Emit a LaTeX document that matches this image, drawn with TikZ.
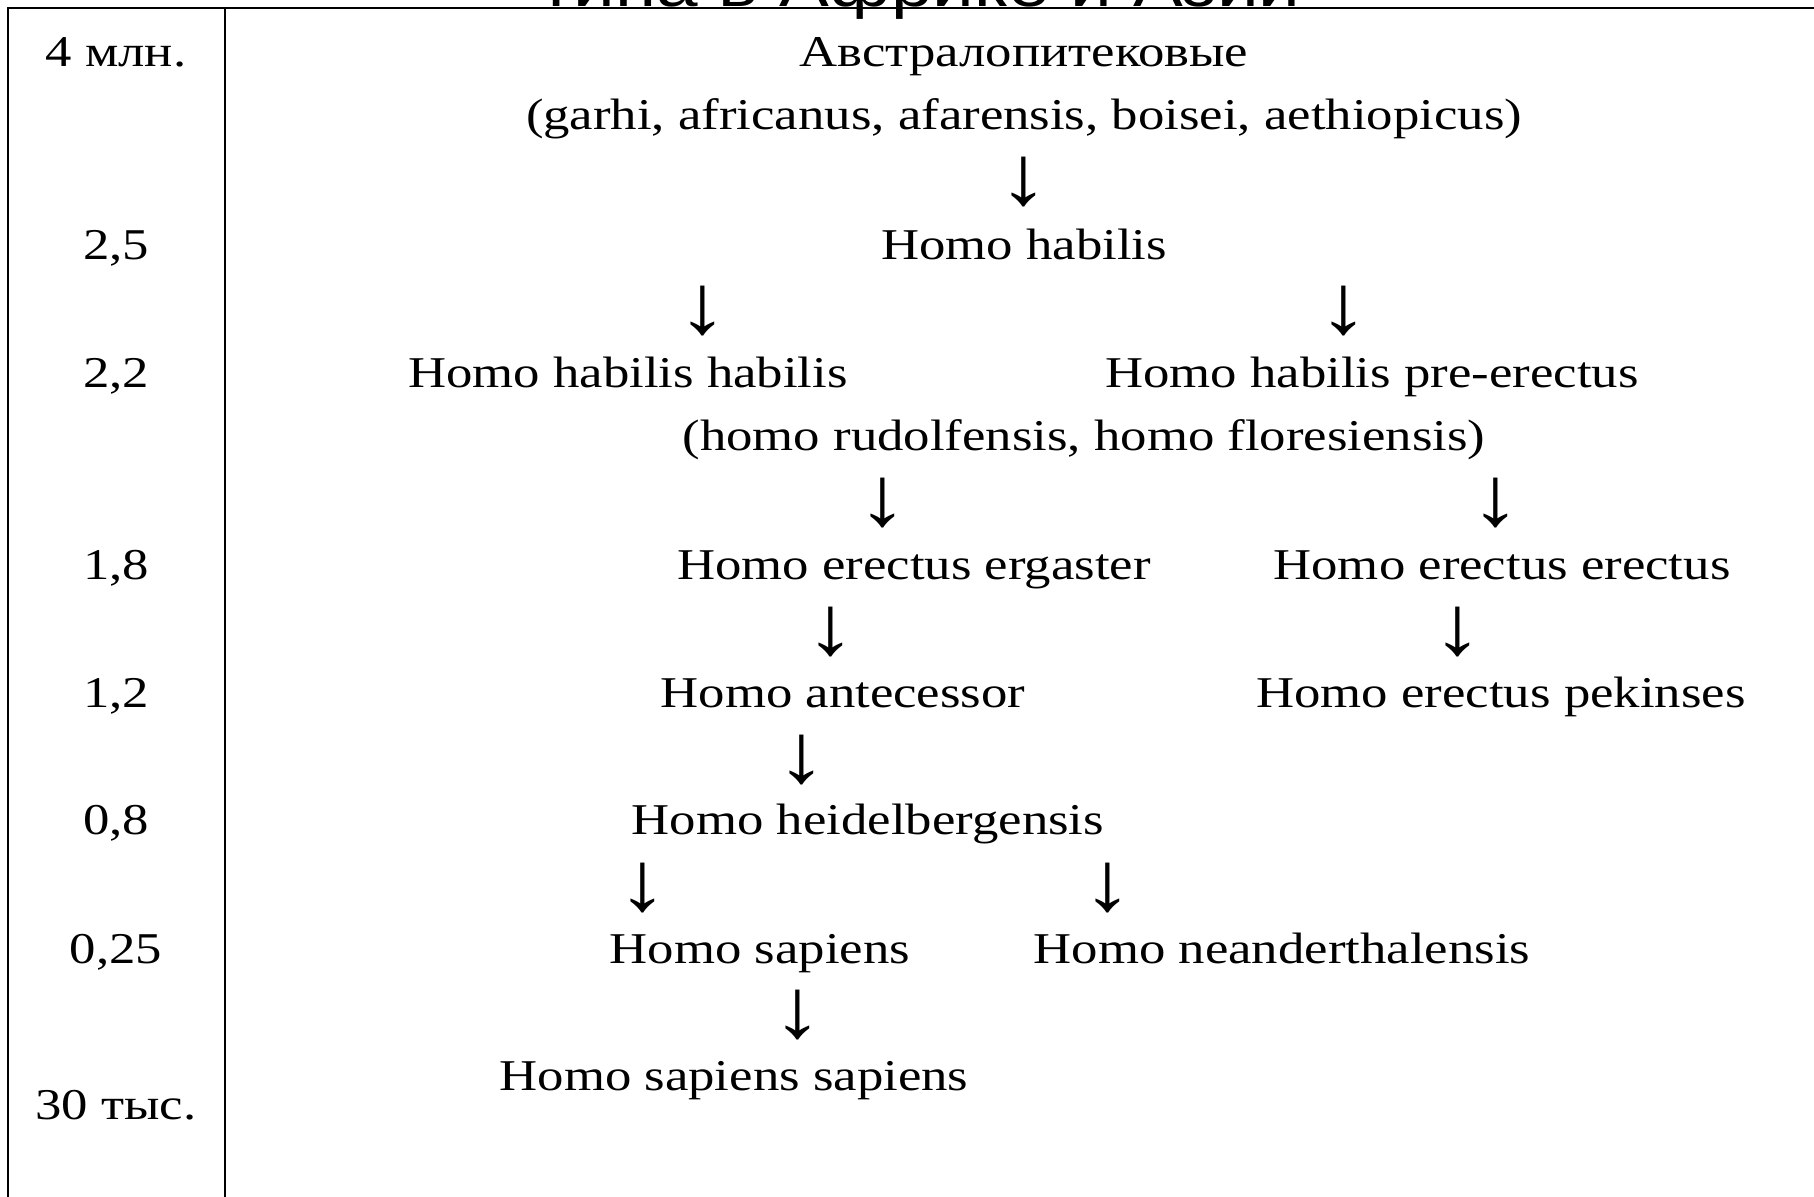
\documentclass[tikz,border=0pt]{standalone}
\usepackage{fontspec}
\setmainfont{Liberation Serif}[FakeStretch=1.2]
\newfontfamily\titlefont{Liberation Sans}[FakeStretch=1.2]

\begin{document}
\begin{tikzpicture}[x=0.01cm, y=-0.01cm,
  lbl/.style={anchor=base, inner sep=0pt, font=\fontsize{12.5}{15}\selectfont},
  arr/.style={inner sep=0pt, font=\fontsize{24}{26}\selectfont}]
\useasboundingbox (0,0) rectangle (1814,1197);
% title, cut off at the top
\node[anchor=base, inner sep=0pt, font=\titlefont\fontsize{17.7}{20}\selectfont] (title) at (920, 7) {тина в Африке и Азии};
% table lines
\draw[line width=0.8pt] (8,1197) -- (8,8) -- (1814,8);
\draw[line width=0.8pt] (225,8) -- (225,1197);
% time column
\node[lbl] (t4) at (116, 67) {4 млн.};
\node[lbl] (t25) at (116, 260) {2,5};
\node[lbl] (t22) at (116, 388) {2,2};
\node[lbl] (t18) at (116, 579) {1,8};
\node[lbl] (t12) at (116, 707) {1,2};
\node[lbl] (t08) at (116, 834) {0,8};
\node[lbl] (t025) at (116, 963) {0,25};
\node[lbl] (t30) at (116, 1119) {30 тыс.};
% species
\node[lbl] (austr) at (1024, 67) {Австралопитековые};
\node[lbl] (austrsp) at (1024, 130) {(garhi, africanus, afarensis, boisei, aethiopicus)};
\node[arr] (a1) at (1024, 182) {↓};
\node[lbl] (habilis) at (1024, 260) {Homo habilis};
\node[arr] (a2) at (703, 311) {↓};
\node[arr] (a3) at (1344, 311) {↓};
\node[lbl] (habhab) at (628, 388) {Homo habilis habilis};
\node[lbl] (preerect) at (1372, 388) {Homo habilis pre-erectus};
\node[lbl] (rudolf) at (1084, 451) {(homo rudolfensis, homo floresiensis)};
\node[arr] (a4) at (883, 503) {↓};
\node[arr] (a5) at (1496, 503) {↓};
\node[lbl] (ergaster) at (914, 579) {Homo erectus ergaster};
\node[lbl] (erectus) at (1502, 579) {Homo erectus erectus};
\node[arr] (a6) at (831, 632) {↓};
\node[arr] (a7) at (1458, 632) {↓};
\node[lbl] (antec) at (843, 707) {Homo antecessor};
\node[lbl] (pekin) at (1501, 707) {Homo erectus pekinses};
\node[arr] (a8) at (802, 760) {↓};
\node[lbl] (heidel) at (868, 834) {Homo heidelbergensis};
\node[arr] (a9) at (643, 888) {↓};
\node[arr] (a10) at (1108, 888) {↓};
\node[lbl] (sapiens) at (760, 963) {Homo sapiens};
\node[lbl] (neand) at (1282, 963) {Homo neanderthalensis};
\node[arr] (a11) at (798, 1015) {↓};
\node[lbl] (sapsap) at (734, 1090) {Homo sapiens sapiens};
\end{tikzpicture}
\end{document}
